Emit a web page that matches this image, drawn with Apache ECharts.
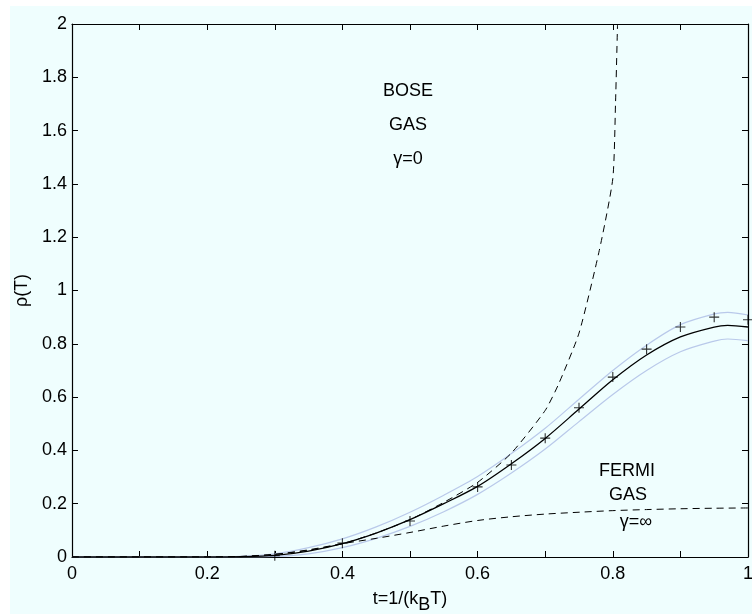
<!DOCTYPE html>
<html>
<head>
<meta charset="utf-8">
<script src="https://cdn.jsdelivr.net/npm/echarts@6/dist/echarts.min.js"></script>
<style>
  html, body { margin: 0; padding: 0; background: #ffffff; }
  #chart { width: 752px; height: 614px; }
</style>
</head>
<body>
<div id="chart"></div>
<script>
// Temperature axis t = 1/(k_B T)
const tTicks = [0, 0.2, 0.4, 0.6, 0.8, 1];
const rhoTicks = [0, 0.2, 0.4, 0.6, 0.8, 1, 1.2, 1.4, 1.6, 1.8, 2];

// Bose gas limit (gamma = 0)
const boseT   = [0, 0.2, 0.25, 0.3, 0.35, 0.4, 0.45, 0.5, 0.55, 0.6, 0.65, 0.7, 0.72, 0.75, 0.78, 0.8, 0.804, 0.807];
const boseRho = [0, 0, 0.002, 0.01, 0.025, 0.05, 0.09, 0.14, 0.205, 0.28, 0.39, 0.55, 0.65, 0.84, 1.15, 1.42, 1.7, 2.0];

// Fermi gas limit (gamma = infinity)
const fermiT   = [0, 0.2, 0.25, 0.3, 0.35, 0.4, 0.45, 0.5, 0.55, 0.6, 0.65, 0.7, 0.75, 0.8, 0.85, 0.9, 0.95, 1.0];
const fermiRho = [0, 0, 0.002, 0.01, 0.027, 0.05, 0.07, 0.092, 0.116, 0.137, 0.151, 0.161, 0.168, 0.174, 0.178, 0.181, 0.183, 0.184];

// Model curve with its upper and lower bounds
const modelT     = [0, 0.2, 0.25, 0.3, 0.35, 0.4, 0.45, 0.5, 0.55, 0.6, 0.65, 0.7, 0.75, 0.8, 0.85, 0.9, 0.95, 0.97, 1.0];
const modelRho   = [0, 0, 0.001, 0.006, 0.022, 0.05, 0.09, 0.14, 0.2, 0.265, 0.35, 0.445, 0.555, 0.665, 0.758, 0.826, 0.863, 0.869, 0.863];
const modelUpper = [0, 0, 0.002, 0.012, 0.035, 0.068, 0.113, 0.168, 0.232, 0.302, 0.388, 0.483, 0.592, 0.7, 0.795, 0.872, 0.912, 0.918, 0.908];
const modelLower = [0, 0, 0.0, 0.002, 0.012, 0.035, 0.07, 0.115, 0.17, 0.235, 0.315, 0.405, 0.508, 0.61, 0.7, 0.77, 0.81, 0.818, 0.812];

// Simulation points
const simT   = [0.3, 0.4, 0.5, 0.6, 0.65, 0.7, 0.75, 0.8, 0.85, 0.9, 0.95, 1.0];
const simRho = [0.005, 0.052, 0.135, 0.263, 0.345, 0.446, 0.56, 0.675, 0.78, 0.863, 0.90, 0.89];

const pair = (xs, ys) => xs.map((x, i) => [x, ys[i]]);

const FONT = '"Liberation Sans", Arial, Helvetica, sans-serif';
const FS = 18;
const BG = '#effefe';

const tickLabel = v => {
  const r = Math.round(v * 10);
  if (r % 2 !== 0) return '';
  return String(+v.toFixed(1));
};

const note = (text, x, y) => ({
  type: 'text', z: 10,
  style: { text, x, y, fontSize: FS, fontFamily: FONT, fill: '#000', textAlign: 'center', textVerticalAlign: 'middle' }
});

const chart = echarts.init(document.getElementById('chart'), null, { renderer: 'canvas' });

const axisCommon = {
  type: 'value',
  axisLine: { show: true, onZero: false, lineStyle: { color: '#000', width: 1.2 } },
  axisTick: { show: true, inside: true, length: 6, lineStyle: { color: '#000', width: 1 } },
  splitLine: { show: false },
  axisLabel: { color: '#000', fontFamily: FONT, fontSize: FS }
};

chart.setOption({
  backgroundColor: '#ffffff',
  animation: false,
  graphic: [
    { type: 'rect', z: -10, shape: { x: 10, y: 6, width: 742, height: 608 }, style: { fill: BG } },
    note('BOSE', 408, 91),
    note('GAS', 408, 125),
    note('γ=0', 408, 159),
    note('FERMI', 627, 471),
    note('GAS', 628, 495),
    note('γ=∞', 636, 522)
  ],
  grid: {
    left: 72, right: 4, top: 24, bottom: 57, show: true, backgroundColor: BG, borderWidth: 0,
    containLabel: false, outerBoundsMode: 'none'
  },
  xAxis: [
    Object.assign({}, axisCommon, {
      min: 0, max: 1, interval: 0.1, position: 'bottom',
      axisLabel: Object.assign({}, axisCommon.axisLabel, { margin: 8, formatter: tickLabel }),
      name: 't=1/(k{sub|B}T)', nameLocation: 'middle', nameGap: 27,
      nameTextStyle: {
        color: '#000', fontFamily: FONT, fontSize: FS,
        rich: { sub: { fontSize: FS, fontFamily: FONT, color: '#000', verticalAlign: 'bottom', lineHeight: 30 } }
      }
    }),
    Object.assign({}, axisCommon, {
      min: 0, max: 1, interval: 0.1, position: 'top',
      axisLabel: { show: false }
    })
  ],
  yAxis: [
    Object.assign({}, axisCommon, {
      min: 0, max: 2, interval: 0.2, position: 'left',
      axisLabel: Object.assign({}, axisCommon.axisLabel, { margin: 5, formatter: v => String(+v.toFixed(1)) }),
      name: 'ρ(T)', nameLocation: 'middle', nameGap: 24, nameRotate: 90,
      nameTextStyle: { color: '#000', fontFamily: FONT, fontSize: FS }
    }),
    Object.assign({}, axisCommon, {
      min: 0, max: 2, interval: 0.2, position: 'right',
      axisLabel: { show: false }
    })
  ],
  series: [
    {
      name: 'upper', type: 'line', data: pair(modelT, modelUpper), smooth: 0.3,
      showSymbol: false, lineStyle: { color: '#b9c9ea', width: 1.2 }, z: 2
    },
    {
      name: 'lower', type: 'line', data: pair(modelT, modelLower), smooth: 0.3,
      showSymbol: false, lineStyle: { color: '#b9c9ea', width: 1.2 }, z: 2
    },
    {
      name: 'Bose', type: 'line', data: pair(boseT, boseRho), smooth: 0.2,
      showSymbol: false, clip: true, lineStyle: { color: '#000', width: 1, type: [7, 5] }, z: 3
    },
    {
      name: 'Fermi', type: 'line', data: pair(fermiT, fermiRho), smooth: 0.3,
      showSymbol: false, lineStyle: { color: '#000', width: 1, type: [7, 5] }, z: 3
    },
    {
      name: 'model', type: 'line', data: pair(modelT, modelRho), smooth: 0.3,
      showSymbol: false, lineStyle: { color: '#000', width: 1.3 }, z: 4
    },
    {
      name: 'sim', type: 'scatter', data: pair(simT, simRho), clip: false,
      symbol: 'path://M0,5 L10,5 M5,0 L5,10', symbolSize: 10,
      itemStyle: { color: 'none', borderColor: '#000', borderWidth: 1.1 }, z: 5
    }
  ]
});
</script>
</body>
</html>
